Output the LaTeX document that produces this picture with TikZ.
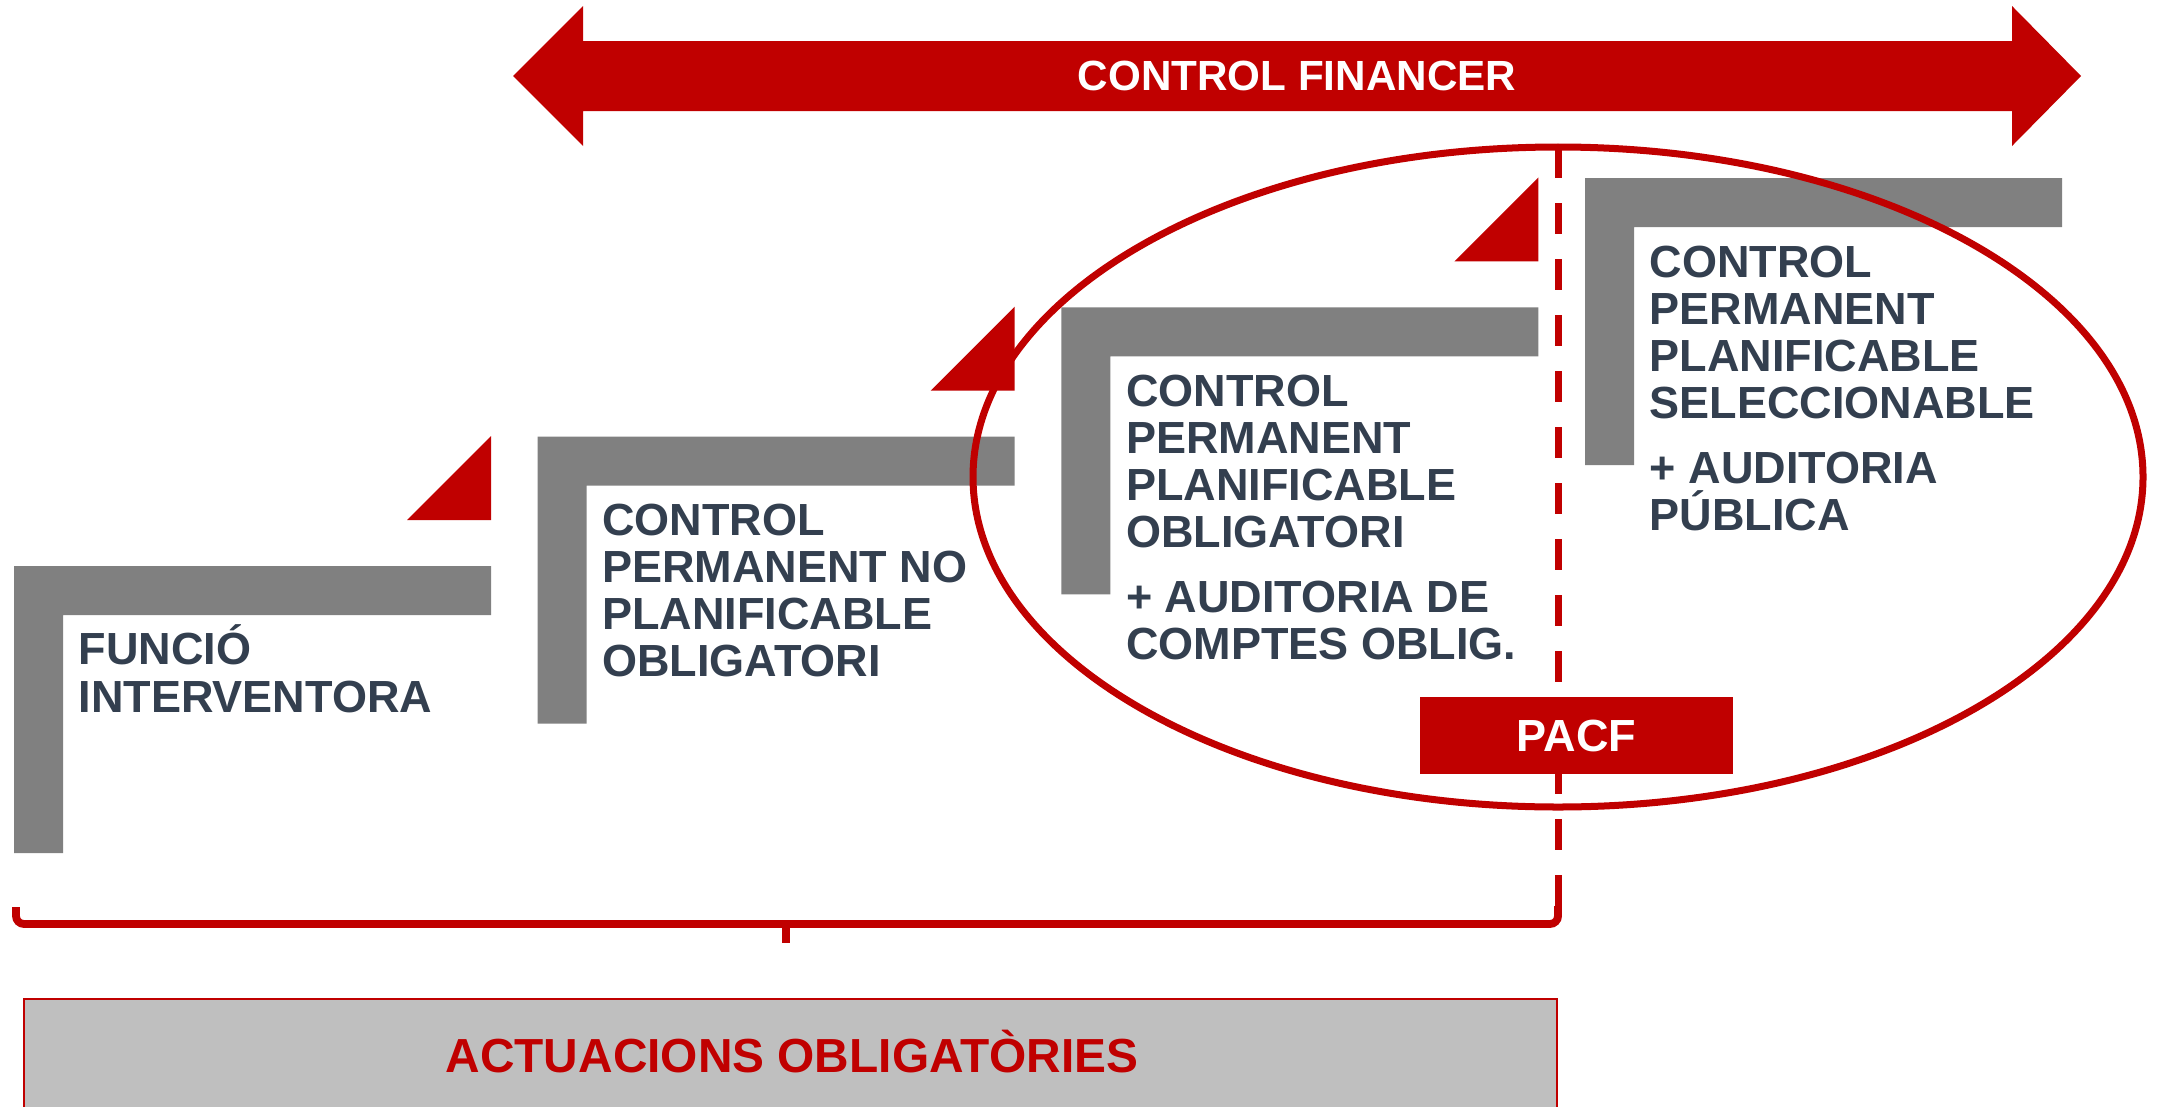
\documentclass[tikz,border=0pt]{standalone}
\usepackage{fontspec}
\setmainfont{Liberation Sans}
\usetikzlibrary{calc}
\usetikzlibrary{positioning}
\definecolor{ctrlred}{HTML}{C00000}
\definecolor{stepgray}{HTML}{808080}
\definecolor{boxgray}{HTML}{BFBFBF}
\definecolor{txtdark}{HTML}{333F4F}

\begin{document}
\begin{tikzpicture}[x=0.01cm,y=-0.01cm,
		steptext/.style={anchor=base west,inner sep=0pt,align=left,text=txtdark,font=\bfseries\fontsize{12.8}{13.37}\selectfont},
		redline/.style={draw=ctrlred,line width=0.07cm}]
		\useasboundingbox (0,0) rectangle (2164,1106);

		\fill[ctrlred] (513,76) -- (583,6) -- (583,41) -- (2012,41) -- (2012,6) -- (2081,76) -- (2012,146) -- (2012,111) -- (583,111) -- (583,146) -- cycle;
		\node[text=white,inner sep=0pt,font=\bfseries\fontsize{12}{14}\selectfont] (cf) at (1297,76) {CONTROL FINANCER};

		\foreach \k in {0,...,3} {
			\fill[stepgray] ({14+523.7*\k},{566-129.3*\k}) -- ++(477,0) -- ++(0,49) -- ++(-428,0) -- ++(0,238) -- ++(-49,0) -- cycle;
			\coordinate (c\k) at ({63+523.7*\k},{615-129.3*\k});
		}
		\foreach \k in {1,2,3}
			\fill[ctrlred] ({491+523.7*(\k-1)},{436-129.3*(\k-1)}) -- ++(0,84) -- ++(-84,0) -- cycle;

		\node[steptext] (fi) at ($(c0)+(15,97)$) {FUNCIÓ\\INTERVENTORA};
		\node[steptext] (cpno) at ($(c1)+(15,191)$) {CONTROL\\PERMANENT NO\\PLANIFICABLE\\OBLIGATORI};
		\node[steptext] (cpo) at ($(c2)+(15,303)$) {CONTROL\\PERMANENT\\PLANIFICABLE\\OBLIGATORI\\[0.18cm]+ AUDITORIA DE\\COMPTES OBLIG.};
		\node[steptext] (cps) at ($(c3)+(15,303)$) {CONTROL\\PERMANENT\\PLANIFICABLE\\SELECCIONABLE\\[0.18cm]+ AUDITORIA\\PÚBLICA};

		\draw[redline] (1558,477) ellipse [x radius=585, y radius=330];

		\coordinate (top) at (1558,147);
		\coordinate (bend) at (1558,906);
		\coordinate (left) at (16,907);
		\coordinate (mid) at (786,924);
		\draw[ctrlred,line width=0.07cm,dash pattern=on 0.31cm off 0.25cm] (top) -- (bend);
		\draw[ctrlred,line width=0.078cm,rounded corners=0.08cm] (bend) |- (mid) -| (left);
		\draw[ctrlred,line width=0.078cm] (mid) -- ++(0,19);

		\node[fill=ctrlred,minimum width=3.13cm,minimum height=0.77cm,inner sep=0pt,text=white,font=\bfseries\fontsize{12.8}{14}\selectfont] (pacf) at (1576.5,735.5) {PACF};

		\draw[draw=ctrlred,line width=0.025cm,fill=boxgray] (24,999) rectangle (1557,1130);
		\node[anchor=base,inner sep=0pt,text=ctrlred,font=\bfseries\fontsize{13.6}{15}\selectfont] (ao) at (792,1072) {ACTUACIONS OBLIGATÒRIES};
	\end{tikzpicture}
\end{document}
